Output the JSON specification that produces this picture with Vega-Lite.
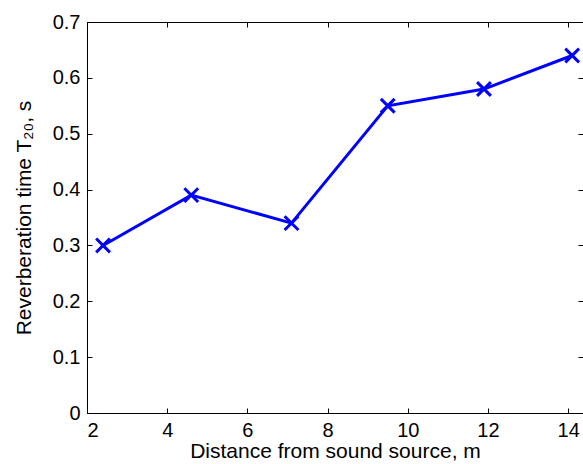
{
  "$schema": "https://vega.github.io/schema/vega-lite/v6.json",
  "width": 496,
  "height": 391,
  "autosize": "none",
  "padding": {"left": 87, "top": 22, "right": 0, "bottom": 51},
  "config": {
    "view": {"stroke": "black", "strokeWidth": 1},
    "axis": {
      "labelFont": "Liberation Sans",
      "titleFont": "Liberation Sans",
      "labelFontSize": 20,
      "titleFontSize": 21,
      "titleFontWeight": "normal",
      "labelColor": "black",
      "titleColor": "black",
      "domainColor": "black",
      "tickColor": "black",
      "grid": false,
      "tickSize": -5
    }
  },
  "data": {
    "values": [
      {"d": 2.4, "t": 0.30},
      {"d": 4.6, "t": 0.39},
      {"d": 7.1, "t": 0.34},
      {"d": 9.5, "t": 0.55},
      {"d": 11.9, "t": 0.58},
      {"d": 14.1, "t": 0.64}
    ]
  },
  "layer": [
    {
      "mark": {"type": "line", "color": "#0000ff", "strokeWidth": 3},
      "encoding": {
        "x": {"field": "d", "type": "quantitative", "scale": {"domain": [2, 14.37], "nice": false, "zero": false},
          "axis": {"values": [2, 4, 6, 8, 10, 12, 14], "title": "Distance from sound source, m", "labelPadding": 12, "titlePadding": 0}},
        "y": {"field": "t", "type": "quantitative", "scale": {"domain": [0, 0.7], "nice": false},
          "axis": {"values": [0, 0.1, 0.2, 0.3, 0.4, 0.5, 0.6, 0.7], "format": ".1~f", "title": "Reverberation time T₂₀, s", "labelPadding": 12, "titlePadding": 18}}
      }
    },
    {
      "mark": {"type": "point", "shape": "M-1,-1L1,1M-1,1L1,-1", "filled": false, "color": "#0000ff", "strokeWidth": 3, "size": 190, "opacity": 1},
      "encoding": {
        "x": {"field": "d", "type": "quantitative", "axis": null},
        "y": {"field": "t", "type": "quantitative", "axis": null}
      }
    },
    {
      "mark": {"type": "point", "opacity": 0},
      "encoding": {
        "x": {"field": "d", "type": "quantitative",
          "axis": {"orient": "top", "values": [2, 4, 6, 8, 10, 12, 14], "labels": false, "title": null, "domain": false}},
        "y": {"field": "t", "type": "quantitative",
          "axis": {"orient": "right", "values": [0, 0.1, 0.2, 0.3, 0.4, 0.5, 0.6, 0.7], "labels": false, "title": null, "domain": false}}
      }
    }
  ],
  "resolve": {"axis": {"x": "independent", "y": "independent"}}
}
